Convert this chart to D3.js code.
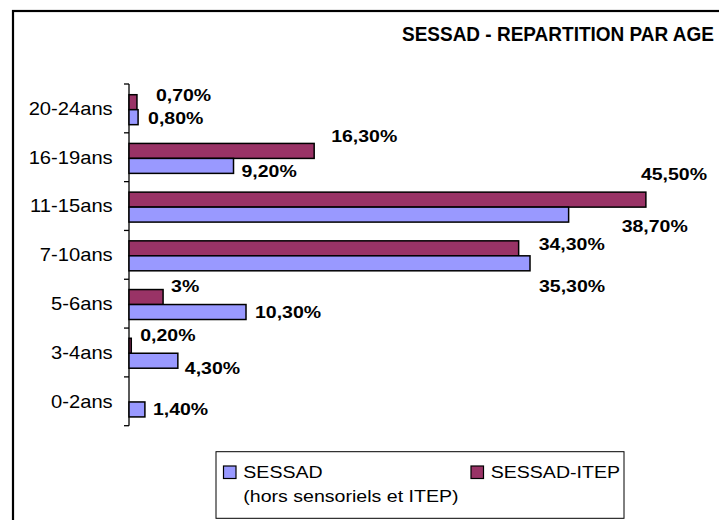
<!DOCTYPE html>
<html>
<head>
<meta charset="utf-8">
<script src="https://cdn.jsdelivr.net/npm/d3@7"></script>
<style>
  html, body { margin: 0; padding: 0; background: #fff; }
  svg { display: block; font-family: "Liberation Sans", Arial, sans-serif; }
</style>
</head>
<body>
<svg id="chart" width="719" height="520"></svg>
<script>
// Age groups, top to bottom
const categories = ["20-24ans", "16-19ans", "11-15ans", "7-10ans", "5-6ans", "3-4ans", "0-2ans"];
// Share of each age group (%)
const sessadValues = [0.8, 9.2, 38.7, 35.3, 10.3, 4.3, 1.4];
const itepValues   = [0.7, 16.3, 45.5, 34.3, 3, 0.2, null];
const seriesNames = ["SESSAD", "SESSAD-ITEP"];
const legendNote = "(hors sensoriels et ITEP)";
const chartTitle = "SESSAD - REPARTITION PAR AGE";

// Hand-placed offsets of the value labels from each bar's end (dx, dy)
const itepLabelNudge = [[19, -7], [17, -15], [-5, -26], [20, -4], [8, -11], [9, -11], [0, 0]];
const sessadLabelNudge = [[10, 1], [8, 5], [53, 11], [9, 23], [9, 0], [7, 7], [8, 0]];

const COLORS = { sessad: "#9999FF", itep: "#993366" };
const LABEL_FS = 16.8;

const svg = d3.select("#chart");

// Outer frame
svg.append("rect")
  .attr("x", 13).attr("y", 11).attr("width", 760).attr("height", 560)
  .attr("fill", "none").attr("stroke", "#000").attr("stroke-width", 2.2);

// Title
svg.append("text")
  .attr("transform", "translate(714,41) scale(0.95,1)")
  .attr("text-anchor", "end")
  .attr("font-weight", "bold").attr("font-size", 20)
  .attr("fill", "#000")
  .text(chartTitle);

// Scales
const x = d3.scaleLinear().domain([0, 50]).range([129, 697]);
const y = d3.scaleBand().domain(categories).range([84, 425.7])
  .paddingInner(0.385).paddingOuter(0.2).align(0.55);
const ySub = d3.scaleBand().domain(["itep", "sessad"]).range([0, y.bandwidth()]);

const fmt = v => (Number.isInteger(v) ? String(v) : v.toFixed(2).replace(".", ",")) + "%";

// Category axis: line with ticks at group boundaries
const axisG = svg.append("g");
axisG.append("line")
  .attr("x1", x(0)).attr("x2", x(0))
  .attr("y1", y.range()[0]).attr("y2", y.range()[1])
  .attr("stroke", "#000").attr("stroke-width", 1.3);
d3.range(categories.length + 1).forEach(i => {
  const yy = y.range()[0] + i * (y.range()[1] - y.range()[0]) / categories.length;
  axisG.append("line")
    .attr("x1", x(0) - 5).attr("x2", x(0))
    .attr("y1", yy).attr("y2", yy)
    .attr("stroke", "#000").attr("stroke-width", 1.3);
});
const bandCenter = (c, i) => y.range()[0] + (i + 0.5) * (y.range()[1] - y.range()[0]) / categories.length;
axisG.selectAll("text.cat").data(categories).join("text")
  .attr("class", "cat")
  .attr("transform", (d, i) => `translate(112.7,${bandCenter(d, i) + 0.358 * 18}) scale(1.12,1)`)
  .attr("text-anchor", "end")
  .attr("font-size", 18).attr("fill", "#000")
  .text(d => d);

// Bars
const rows = categories.map((c, i) => ({ c, i, sessad: sessadValues[i], itep: itepValues[i] }));
const barG = svg.append("g");
[["itep", COLORS.itep], ["sessad", COLORS.sessad]].forEach(([key, color]) => {
  barG.selectAll(`rect.${key}`).data(rows.filter(r => r[key] != null)).join("rect")
    .attr("class", key)
    .attr("x", x(0))
    .attr("y", r => y(r.c) + ySub(key))
    .attr("width", r => x(r[key]) - x(0))
    .attr("height", ySub.bandwidth())
    .attr("fill", color)
    .attr("stroke", "#000").attr("stroke-width", 1.5);
});

// Value labels
const labelG = svg.append("g");
[["itep", itepLabelNudge], ["sessad", sessadLabelNudge]].forEach(([key, nudge]) => {
  labelG.selectAll(`text.${key}`).data(rows.filter(r => r[key] != null)).join("text")
    .attr("class", key)
    .attr("transform", r => {
      const bx = x(r[key]) + nudge[r.i][0];
      const by = y(r.c) + ySub(key) + ySub.bandwidth() / 2 + nudge[r.i][1] + 0.358 * LABEL_FS;
      return `translate(${bx},${by}) scale(1.16,1)`;
    })
    .attr("font-weight", "bold").attr("font-size", LABEL_FS).attr("fill", "#000")
    .text(r => fmt(r[key]));
});

// Legend
const lg = svg.append("g");
lg.append("rect")
  .attr("x", 216).attr("y", 451.7).attr("width", 408).attr("height", 66.6)
  .attr("fill", "#fff").attr("stroke", "#000").attr("stroke-width", 1);
const legendItems = [
  { name: seriesNames[0], color: COLORS.sessad, sx: 223.5, tx: 243.3 },
  { name: seriesNames[1], color: COLORS.itep, sx: 471, tx: 490.7 }
];
legendItems.forEach(it => {
  lg.append("rect")
    .attr("x", it.sx).attr("y", 466).attr("width", 12.5).attr("height", 12.5)
    .attr("fill", it.color).attr("stroke", "#000").attr("stroke-width", 1.2);
  lg.append("text")
    .attr("transform", `translate(${it.tx},477.6) scale(1.2,1)`)
    .attr("font-size", 16.3).attr("fill", "#000")
    .text(it.name);
});
lg.append("text")
  .attr("transform", "translate(243.3,502) scale(1.2,1)")
  .attr("font-size", 16.3).attr("fill", "#000")
  .text(legendNote);
</script>
</body>
</html>
